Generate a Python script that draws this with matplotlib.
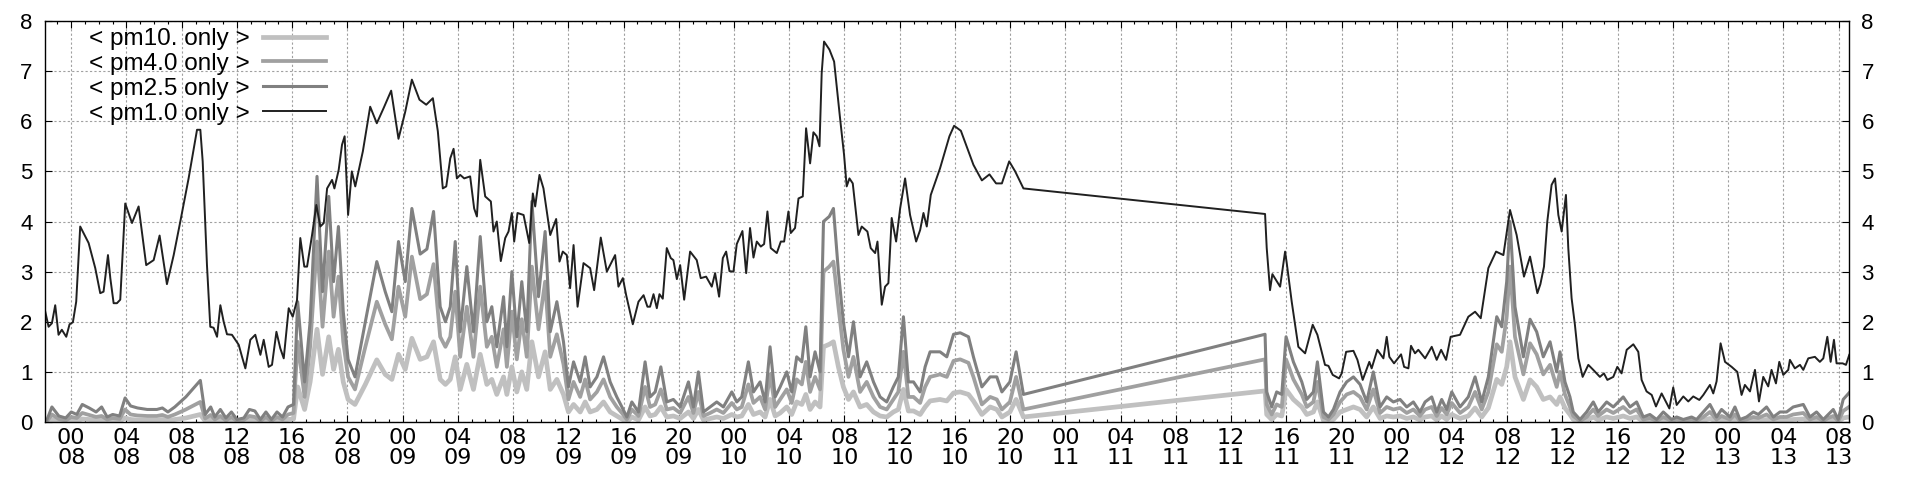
import pandas as pd
import numpy as np
import matplotlib
matplotlib.use("Agg")
import matplotlib.pyplot as plt
import matplotlib.dates as mdates

# hours counted from day 08, 00:00
black_t = [-1.88, -1.64, -1.40, -1.16, -0.92, -0.68, -0.36, -0.12, 0.12, 0.36,
           0.65, 1.26, 1.74, 2.10, 2.34, 2.66, 2.83, 3.07, 3.31, 3.55,
           3.91, 4.40, 4.88, 5.43, 5.97, 6.40, 6.93, 7.42, 7.90, 8.50,
           9.11, 9.35, 9.52, 9.83, 10.07, 10.31, 10.56, 10.80, 11.04, 11.28,
           11.64, 12.13, 12.37, 12.61, 12.97, 13.33, 13.70, 13.94, 14.30, 14.54,
           14.86, 15.14, 15.39, 15.75, 16.04, 16.35, 16.59, 16.88, 17.08, 17.44,
           17.75, 18.04, 18.29, 18.53, 18.89, 19.06, 19.37, 19.61, 19.80, 20.05,
           20.32, 20.57, 21.12, 21.65, 22.13, 22.62, 23.17, 23.70, 24.19, 24.67,
           25.22, 25.71, 26.19, 26.55, 26.91, 27.16, 27.45, 27.69, 27.93, 28.17,
           28.46, 28.89, 29.18, 29.38, 29.62, 29.98, 30.39, 30.58, 30.82, 31.11,
           31.43, 31.67, 31.91, 32.08, 32.32, 32.76, 33.17, 33.43, 33.60, 33.91,
           34.20, 34.69, 35.12, 35.36, 35.60, 35.89, 36.13, 36.38, 36.67, 37.10,
           37.58, 37.87, 38.35, 38.79, 39.39, 39.63, 39.95, 40.19, 40.67, 41.08,
           41.45, 41.73, 41.92, 42.17, 42.41, 42.60, 42.84, 43.13, 43.42, 43.61,
           43.86, 44.10, 44.39, 44.82, 45.30, 45.59, 45.98, 46.39, 46.63, 46.92,
           47.19, 47.43, 47.67, 47.96, 48.20, 48.61, 48.88, 49.16, 49.41, 49.65,
           49.94, 50.18, 50.42, 50.66, 51.10, 51.39, 51.63, 51.94, 52.11, 52.42,
           52.67, 52.98, 53.22, 53.51, 53.75, 53.99, 54.19, 54.35, 54.52, 54.91,
           55.25, 55.68, 55.97, 56.16, 56.36, 56.60, 57.01, 57.25, 57.66, 57.90,
           58.22, 58.39, 58.70, 58.94, 59.18, 59.42, 59.74, 60.03, 60.39, 60.75,
           61.19, 61.48, 61.72, 61.96, 62.25, 62.92, 63.60, 63.94, 64.43, 65.34,
           65.95, 66.50, 66.98, 67.40, 67.93, 68.36, 68.96,
           86.46, 86.58, 86.82, 86.99, 87.55, 87.91, 88.03, 88.39, 88.87, 89.36,
           89.91, 90.25, 90.80, 91.05, 91.36, 91.82, 92.01, 92.33, 92.86, 93.15,
           93.53, 94.01, 94.18, 94.59, 95.03, 95.27, 95.46, 95.80, 96.31, 96.53,
           96.84, 97.03, 97.32, 97.56, 98.05, 98.53, 98.89, 99.21, 99.57, 99.90,
           100.58, 101.18, 101.67, 102.08, 102.63, 103.19, 103.72, 104.20, 104.68, 105.21,
           105.65, 106.18, 106.40, 106.66, 106.90, 107.21, 107.46, 107.70, 107.94, 108.25,
           108.42, 108.66, 108.90, 109.15, 109.46, 109.87, 110.23, 110.71, 111.00, 111.25,
           111.68, 111.97, 112.28, 112.65, 113.13, 113.49, 113.73, 114.09, 114.46, 114.77,
           115.18, 115.74, 116.02, 116.27, 116.75, 117.11, 117.47, 117.91, 118.20, 118.68,
           118.92, 119.16, 119.45, 119.77, 120.25, 120.66, 120.97, 121.21, 121.58, 121.94,
           122.23, 122.54, 122.90, 123.14, 123.46, 123.70, 123.99, 124.35, 124.47, 124.83,
           125.20, 125.44, 125.80, 126.28, 126.64, 126.89, 127.18, 127.42, 127.66, 127.85,
           128.29, 128.53, 128.77]

pm1_v = [2.20, 1.90, 1.97, 2.33, 1.74, 1.84, 1.70, 1.95, 1.99, 2.40,
         3.90, 3.57, 3.07, 2.57, 2.60, 3.33, 2.87, 2.37, 2.37, 2.44,
         4.36, 3.97, 4.30, 3.13, 3.23, 3.72, 2.75, 3.33, 4.00, 4.86,
         5.83, 5.83, 5.20, 3.13, 1.90, 1.88, 1.70, 2.33, 2.00, 1.75,
         1.74, 1.54, 1.30, 1.07, 1.64, 1.74, 1.34, 1.64, 1.10, 1.14,
         1.80, 1.47, 1.27, 2.27, 2.10, 2.43, 3.67, 3.10, 3.10, 3.73,
         4.33, 3.90, 3.97, 4.66, 4.83, 4.66, 5.03, 5.53, 5.70, 4.13,
         5.00, 4.70, 5.40, 6.29, 5.96, 6.26, 6.61, 5.65, 6.19, 6.83,
         6.43, 6.33, 6.46, 5.80, 4.66, 4.70, 5.26, 5.45, 4.86, 4.93,
         4.86, 4.90, 4.26, 4.10, 5.23, 4.50, 4.40, 3.80, 4.00, 3.21,
         3.67, 3.80, 4.17, 3.60, 4.17, 4.13, 3.57, 4.56, 4.30, 4.93,
         4.66, 3.73, 4.05, 3.20, 3.40, 3.33, 2.67, 3.53, 2.30, 3.17,
         3.07, 2.63, 3.68, 3.00, 3.33, 2.70, 2.87, 2.53, 1.95, 2.40,
         2.53, 2.30, 2.30, 2.55, 2.27, 2.55, 2.46, 3.47, 3.27, 3.23,
         2.85, 3.13, 2.44, 3.40, 3.23, 2.87, 2.90, 2.70, 2.97, 2.50,
         3.27, 3.40, 3.01, 3.00, 3.55, 3.81, 2.97, 3.87, 3.28, 3.60,
         3.50, 3.55, 4.20, 3.47, 3.37, 3.60, 3.60, 4.20, 3.77, 3.87,
         4.46, 4.50, 5.86, 5.16, 5.78, 5.70, 5.50, 6.96, 7.59, 7.43,
         7.19, 6.06, 5.33, 4.70, 4.86, 4.76, 3.73, 3.90, 3.80, 3.47,
         3.37, 3.60, 2.34, 2.70, 2.77, 4.07, 3.60, 4.26, 4.86, 4.13,
         3.60, 3.83, 4.17, 3.90, 4.53, 5.06, 5.70, 5.91, 5.81, 5.13,
         4.82, 4.94, 4.76, 4.76, 5.20, 5.00, 4.66,
         4.15, 3.47, 2.63, 2.95, 2.70, 3.40, 3.17, 2.40, 1.50, 1.37,
         1.94, 1.74, 1.14, 1.12, 0.94, 0.87, 0.97, 1.40, 1.42, 1.24,
         0.84, 1.20, 1.07, 1.44, 1.27, 1.70, 1.30, 1.17, 1.35, 1.10,
         1.07, 1.52, 1.37, 1.44, 1.27, 1.50, 1.24, 1.44, 1.24, 1.70,
         1.74, 2.10, 2.20, 2.07, 3.07, 3.40, 3.33, 4.23, 3.73, 2.90,
         3.30, 2.57, 2.75, 3.10, 4.00, 4.73, 4.86, 4.13, 3.80, 4.53,
         3.47, 2.47, 1.94, 1.27, 0.90, 1.14, 1.04, 0.90, 0.97, 0.84,
         0.90, 1.10, 0.97, 1.44, 1.55, 1.40, 0.84, 0.61, 0.54, 0.31,
         0.57, 0.27, 0.69, 0.34, 0.51, 0.41, 0.51, 0.44, 0.54, 0.74,
         0.57, 0.81, 1.57, 1.20, 1.10, 1.00, 0.54, 0.74, 0.61, 1.04,
         0.41, 0.90, 0.71, 1.04, 0.77, 1.20, 0.94, 1.04, 1.24, 1.07,
         1.14, 1.04, 1.27, 1.30, 1.20, 1.27, 1.70, 1.20, 1.64, 1.17,
         1.17, 1.14, 1.34]

gray_t = [-1.75, -1.4, -0.9, -0.4, 0.0, 0.4, 0.8, 1.3, 1.8, 2.2,
          2.6, 3.0, 3.5, 3.9, 4.3, 4.8, 5.5, 6.2, 6.6, 7.0,
          7.5, 8.3, 9.35, 9.7, 10.1, 10.4, 10.8, 11.2, 11.6, 12.0,
          12.5, 12.9, 13.3, 13.7, 14.1, 14.5, 14.9, 15.3, 15.7, 16.1,
          16.4, 16.9, 17.3, 17.8, 18.2, 18.65, 19.0, 19.35, 19.7, 20.05,
          20.55, 21.3, 22.13, 22.74, 23.22, 23.7, 24.19, 24.67, 25.27, 25.76,
          26.24, 26.72, 27.1, 27.45, 27.81, 28.17, 28.65, 29.13, 29.62, 30.1,
          30.46, 30.82, 31.31, 31.55, 31.91, 32.27, 32.63, 32.99, 33.36, 33.84,
          34.32, 34.69, 35.17, 35.65, 36.01, 36.38, 36.86, 37.22, 37.58, 38.07,
          38.55, 39.03, 39.51, 39.88, 40.24, 40.6, 41.08, 41.56, 41.92, 42.29,
          42.7, 43.13, 43.61, 44.1, 44.7, 45.06, 45.42, 45.79, 46.27, 46.75,
          47.23, 47.84, 48.2, 48.56, 49.04, 49.41, 49.89, 50.25, 50.61, 50.98,
          51.34, 51.82, 52.18, 52.54, 52.91, 53.2, 53.51, 53.87, 54.23, 54.48,
          54.9, 55.2, 55.56, 55.92, 56.29, 56.65, 57.13, 57.61, 58.1, 58.58,
          59.06, 59.54, 59.9, 60.27, 60.63, 61.0, 61.48, 61.84, 62.2, 62.92,
          63.41, 63.9, 64.38, 64.98, 65.34, 65.95, 66.55, 67.03, 67.4, 67.98,
          68.43, 68.96,
          86.46, 86.58, 86.94, 87.3, 87.67, 87.98, 88.51, 89.12, 89.48, 89.96,
          90.25, 90.69, 91.05, 91.41, 91.89, 92.37, 92.86, 93.34, 93.82, 94.3,
          94.79, 95.27, 95.75, 96.24, 96.72, 97.2, 97.68, 98.05, 98.53, 98.89,
          99.25, 99.61, 99.98, 100.58, 101.18, 101.67, 102.15, 102.63, 103.24, 103.6,
          103.96, 104.2, 104.56, 105.17, 105.65, 106.13, 106.61, 107.1, 107.58, 107.82,
          108.18, 108.54, 108.78, 109.27, 109.75, 110.23, 110.59, 111.2, 111.68, 112.4,
          112.89, 113.37, 113.85, 114.33, 114.82, 115.3, 115.9, 116.27, 116.75, 117.35,
          117.71, 118.2, 118.68, 119.16, 119.52, 120.13, 120.49, 120.85, 121.33, 121.82,
          122.18, 122.78, 123.27, 123.75, 124.23, 124.71, 125.44, 125.92, 126.4, 126.89,
          127.25, 127.61, 127.97, 128.33, 128.75]

pm25_v = [0.05, 0.30, 0.12, 0.08, 0.20, 0.15, 0.35, 0.28, 0.20, 0.30,
          0.10, 0.15, 0.12, 0.48, 0.32, 0.28, 0.25, 0.25, 0.28, 0.20,
          0.30, 0.50, 0.83, 0.15, 0.30, 0.10, 0.25, 0.08, 0.20, 0.05,
          0.08, 0.25, 0.22, 0.05, 0.20, 0.05, 0.20, 0.10, 0.30, 0.35,
          2.40, 0.80, 2.00, 4.90, 2.60, 4.50, 2.80, 3.90, 2.20, 1.25,
          0.90, 2.00, 3.20, 2.60, 2.20, 3.60, 2.80, 4.26, 3.35, 3.45,
          4.20, 2.30, 2.00, 2.30, 3.60, 1.80, 3.10, 1.80, 3.70, 2.00,
          2.30, 1.50, 2.50, 1.50, 3.00, 1.70, 2.80, 1.80, 4.40, 2.50,
          3.80, 1.80, 2.40, 1.60, 0.70, 1.20, 0.80, 1.30, 0.70, 0.90,
          1.30, 0.80, 0.50, 0.30, 0.10, 0.40, 0.20, 1.20, 0.50, 0.60,
          1.10, 0.40, 0.45, 0.30, 0.80, 0.30, 1.00, 0.20, 0.30, 0.40,
          0.30, 0.60, 0.40, 0.50, 1.20, 0.60, 0.80, 0.40, 1.50, 0.50,
          0.70, 1.00, 0.60, 1.30, 1.20, 1.90, 0.90, 1.40, 1.00, 4.00,
          4.10, 4.26, 3.00, 2.00, 1.30, 2.00, 0.90, 1.20, 0.80, 0.50,
          0.40, 0.70, 0.90, 2.10, 0.80, 0.80, 0.60, 1.10, 1.40, 1.40,
          1.30, 1.75, 1.78, 1.70, 1.30, 0.70, 0.90, 0.90, 0.60, 0.80,
          1.40, 0.55,
          1.75, 0.60, 0.30, 0.60, 0.55, 1.70, 1.20, 0.80, 0.45, 0.60,
          1.20, 0.20, 0.10, 0.25, 0.60, 0.80, 0.90, 0.75, 0.40, 1.00,
          0.30, 0.50, 0.40, 0.45, 0.30, 0.40, 0.20, 0.40, 0.50, 0.20,
          0.45, 0.25, 0.60, 0.30, 0.50, 0.90, 0.40, 0.90, 2.10, 1.90,
          2.80, 4.00, 2.30, 1.30, 2.05, 1.80, 1.30, 1.60, 1.00, 1.40,
          0.80, 0.50, 0.20, 0.05, 0.20, 0.40, 0.20, 0.40, 0.30, 0.50,
          0.30, 0.40, 0.10, 0.15, 0.05, 0.20, 0.05, 0.10, 0.05, 0.10,
          0.05, 0.20, 0.35, 0.10, 0.25, 0.10, 0.30, 0.05, 0.10, 0.20,
          0.15, 0.30, 0.10, 0.20, 0.20, 0.30, 0.35, 0.10, 0.20, 0.05,
          0.15, 0.25, 0.05, 0.45, 0.58]

pm40_v = [0.02, 0.15, 0.06, 0.03, 0.10, 0.08, 0.18, 0.14, 0.10, 0.12,
          0.05, 0.08, 0.06, 0.25, 0.15, 0.13, 0.12, 0.12, 0.14, 0.10,
          0.15, 0.25, 0.40, 0.07, 0.14, 0.05, 0.12, 0.03, 0.10, 0.02,
          0.04, 0.12, 0.10, 0.02, 0.10, 0.02, 0.10, 0.05, 0.15, 0.18,
          1.60, 0.50, 1.50, 3.60, 1.90, 3.40, 2.10, 2.90, 1.60, 0.90,
          0.65, 1.50, 2.40, 1.95, 1.65, 2.70, 2.10, 3.30, 2.45, 2.55,
          3.15, 1.70, 1.50, 1.70, 2.60, 1.30, 2.30, 1.30, 2.70, 1.50,
          1.70, 1.10, 1.85, 1.10, 2.20, 1.25, 2.05, 1.30, 3.10, 1.85,
          2.80, 1.30, 1.75, 1.15, 0.45, 0.80, 0.50, 0.85, 0.45, 0.60,
          0.85, 0.50, 0.30, 0.18, 0.05, 0.25, 0.12, 0.70, 0.30, 0.35,
          0.65, 0.25, 0.28, 0.18, 0.50, 0.18, 0.60, 0.12, 0.18, 0.25,
          0.18, 0.38, 0.25, 0.30, 0.75, 0.38, 0.50, 0.25, 0.95, 0.30,
          0.45, 0.65, 0.38, 0.85, 0.75, 1.20, 0.60, 0.90, 0.65, 3.00,
          3.10, 3.20, 2.30, 1.45, 0.90, 1.30, 0.60, 0.80, 0.50, 0.30,
          0.25, 0.45, 0.60, 1.40, 0.50, 0.50, 0.38, 0.70, 0.90, 0.95,
          0.90, 1.22, 1.25, 1.18, 0.90, 0.35, 0.50, 0.45, 0.25, 0.40,
          0.90, 0.25,
          1.25, 0.35, 0.15, 0.35, 0.30, 1.25, 0.85, 0.55, 0.30, 0.40,
          0.80, 0.10, 0.05, 0.15, 0.40, 0.55, 0.60, 0.50, 0.25, 0.65,
          0.18, 0.30, 0.25, 0.28, 0.18, 0.25, 0.12, 0.25, 0.30, 0.12,
          0.28, 0.15, 0.38, 0.18, 0.30, 0.60, 0.25, 0.60, 1.55, 1.40,
          2.10, 3.10, 1.70, 0.95, 1.57, 1.35, 0.95, 1.14, 0.70, 1.00,
          0.55, 0.30, 0.12, 0.02, 0.10, 0.25, 0.12, 0.25, 0.18, 0.30,
          0.18, 0.25, 0.05, 0.08, 0.02, 0.10, 0.02, 0.05, 0.02, 0.05,
          0.02, 0.10, 0.20, 0.05, 0.12, 0.05, 0.15, 0.02, 0.05, 0.10,
          0.08, 0.15, 0.05, 0.10, 0.10, 0.15, 0.18, 0.05, 0.10, 0.02,
          0.08, 0.12, 0.02, 0.22, 0.30]

pm10_v = [0.00, 0.05, 0.02, 0.00, 0.03, 0.02, 0.06, 0.05, 0.03, 0.04,
          0.01, 0.02, 0.02, 0.08, 0.05, 0.04, 0.04, 0.04, 0.05, 0.03,
          0.05, 0.08, 0.15, 0.02, 0.05, 0.01, 0.04, 0.01, 0.03, 0.00,
          0.01, 0.04, 0.03, 0.00, 0.03, 0.00, 0.03, 0.01, 0.05, 0.06,
          0.70, 0.25, 0.80, 1.85, 0.95, 1.70, 1.05, 1.45, 0.80, 0.45,
          0.35, 0.75, 1.24, 0.95, 0.85, 1.35, 1.05, 1.67, 1.25, 1.30,
          1.60, 0.85, 0.75, 0.85, 1.30, 0.65, 1.15, 0.65, 1.35, 0.75,
          0.85, 0.55, 0.90, 0.55, 1.10, 0.60, 1.00, 0.65, 1.60, 0.90,
          1.40, 0.65, 0.85, 0.55, 0.20, 0.35, 0.20, 0.40, 0.20, 0.25,
          0.40, 0.20, 0.12, 0.06, 0.00, 0.10, 0.04, 0.30, 0.12, 0.15,
          0.30, 0.10, 0.12, 0.07, 0.20, 0.07, 0.25, 0.04, 0.07, 0.10,
          0.07, 0.15, 0.10, 0.12, 0.35, 0.15, 0.20, 0.10, 0.45, 0.12,
          0.18, 0.30, 0.15, 0.40, 0.35, 0.55, 0.25, 0.40, 0.30, 1.50,
          1.55, 1.60, 1.10, 0.70, 0.45, 0.60, 0.30, 0.35, 0.20, 0.12,
          0.10, 0.20, 0.25, 0.65, 0.22, 0.22, 0.15, 0.30, 0.42, 0.45,
          0.42, 0.58, 0.60, 0.55, 0.42, 0.15, 0.30, 0.25, 0.10, 0.20,
          0.45, 0.10,
          0.62, 0.15, 0.05, 0.15, 0.12, 0.65, 0.45, 0.30, 0.15, 0.20,
          0.40, 0.03, 0.00, 0.05, 0.20, 0.25, 0.30, 0.25, 0.10, 0.30,
          0.07, 0.12, 0.10, 0.12, 0.07, 0.10, 0.04, 0.10, 0.12, 0.04,
          0.12, 0.05, 0.15, 0.07, 0.12, 0.28, 0.10, 0.28, 0.85, 0.75,
          1.10, 1.60, 0.90, 0.45, 0.84, 0.70, 0.45, 0.50, 0.35, 0.50,
          0.28, 0.15, 0.05, 0.00, 0.03, 0.10, 0.04, 0.10, 0.07, 0.12,
          0.07, 0.10, 0.01, 0.02, 0.00, 0.03, 0.00, 0.01, 0.00, 0.01,
          0.00, 0.03, 0.07, 0.01, 0.04, 0.01, 0.05, 0.00, 0.01, 0.03,
          0.02, 0.05, 0.01, 0.03, 0.03, 0.05, 0.06, 0.01, 0.03, 0.00,
          0.02, 0.04, 0.00, 0.08, 0.10]

labels = ["< pm10. only >", "< pm4.0 only >", "< pm2.5 only >", "< pm1.0 only >"]

base = pd.Timestamp("2021-01-08 00:00")
bt = base + pd.to_timedelta(black_t, unit="h")
gt = base + pd.to_timedelta(gray_t, unit="h")

fig = plt.figure(figsize=(19.2, 4.8), dpi=100)
ax = fig.add_axes([45/1920, 1 - 422/480, (1849-45)/1920, (422-21)/480])

ax.plot(gt, pm10_v, color="#c0c0c0", lw=3.4, label=labels[0])
ax.plot(gt, pm40_v, color="#a0a0a0", lw=2.7, label=labels[1])
ax.plot(gt, pm25_v, color="#808080", lw=2.2, label=labels[2])
ax.plot(bt, pm1_v, color="#202020", lw=1.4, label=labels[3])

ax.set_xlim(base + pd.Timedelta(hours=-1.9), base + pd.Timedelta(hours=128.75))
ax.set_ylim(0, 8)
ax.set_yticks(range(0, 9))

ax.xaxis.set_major_locator(mdates.HourLocator(byhour=range(0, 24, 4)))
ax.xaxis.set_major_formatter(mdates.DateFormatter("%H\n%d"))
ax.xaxis.set_minor_locator(mdates.HourLocator())

ax.grid(True, which="major", color="#a0a0a0", linestyle=(0, (2, 2)), linewidth=0.8)
ax.tick_params(which="both", direction="in", top=True, right=True, labelright=True, width=0.8)
ax.tick_params(which="major", length=5)
ax.tick_params(which="minor", length=2.5)
ax.tick_params(axis="y", labelsize=16, pad=9)
for lab in ax.get_yticklabels():
    lab.set_family(["Liberation Sans", "DejaVu Sans"])
ax.tick_params(axis="x", labelsize=16, pad=4)
for lab in ax.get_xticklabels():
    lab.set_family(["Liberation Sans Narrow", "DejaVu Sans Condensed", "DejaVu Sans"])
    lab.set_linespacing(1.05)
for s in ax.spines.values():
    s.set_linewidth(1.0)

leg = ax.legend(loc="upper left", bbox_to_anchor=(0.012, 1.037), frameon=False,
                markerfirst=False, handlelength=2.6, labelspacing=0.12,
                handletextpad=0.55,
                prop={"family": "Liberation Sans", "size": 17.5})

fig.savefig("out.png", dpi=100)
